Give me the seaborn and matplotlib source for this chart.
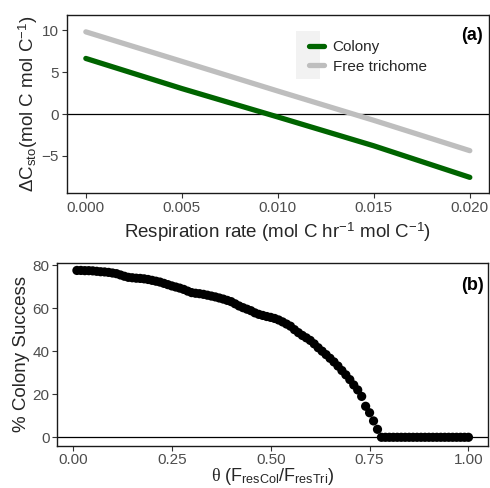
import matplotlib
matplotlib.use("Agg")
import matplotlib.pyplot as plt
import seaborn as sns
import pandas as pd
from matplotlib.patches import Rectangle

# panel (a): storage change vs respiration rate
resp_rate = [0.0, 0.005, 0.010, 0.015, 0.020]
colony_dc = [6.65, 3.05, -0.35, -3.8, -7.57]
trichome_dc = [9.83, 6.3, 2.75, -0.75, -4.38]

# panel (b): colony success vs theta
theta = [round(0.01 * i, 2) for i in range(1, 101)]
success = [77.5, 77.5, 77.4, 77.4, 77.3, 77.1, 76.9, 76.8, 76.6, 76.3,
           76.0, 75.4, 74.8, 74.3, 74.1, 73.9, 73.8, 73.6, 73.3, 72.9,
           72.5, 72.1, 71.5, 70.9, 70.3, 69.8, 69.3, 68.7, 67.9, 67.2,
           66.9, 66.7, 66.4, 66.0, 65.6, 65.2, 64.7, 64.2, 63.6, 63.0,
           62.0, 61.0, 60.2, 59.5, 58.8, 57.8, 57.1, 56.6, 56.1, 55.7,
           55.2, 54.5, 53.6, 52.6, 51.6, 50.0, 48.6, 47.3, 46.2, 45.0,
           43.4, 41.6, 40.0, 38.4, 36.7, 35.0, 33.1, 31.0, 29.0, 26.8,
           24.3, 22.0, 19.0, 14.4, 11.4, 7.6, 3.7] + [0.0] * 23

sns.set_theme(style="white")
plt.rcParams['font.family'] = ['Liberation Sans', 'DejaVu Sans']
plt.rcParams['mathtext.fontset'] = 'custom'
plt.rcParams['mathtext.rm'] = 'Liberation Sans'
plt.rcParams['mathtext.it'] = 'Liberation Serif'
plt.rcParams['mathtext.bf'] = 'Liberation Sans:bold'

tick_kw = dict(labelsize=11, labelcolor='#4D4D4D', color='#333333',
               length=3.5, width=0.8, pad=2, bottom=True, left=True)

fig = plt.figure(figsize=(4.9, 4.88), dpi=100)

# ---- panel (a)
ax1 = fig.add_axes([0.136, 0.604, 0.862, 0.365])
df_a = pd.DataFrame({
    'rate': resp_rate * 2,
    'dc': colony_dc + trichome_dc,
    'type': ['Colony'] * len(resp_rate) + ['Free trichome'] * len(resp_rate),
})
sns.lineplot(data=df_a, x='rate', y='dc', hue='type',
             palette={'Colony': '#006400', 'Free trichome': '#BEBEBE'},
             linewidth=3.8, ax=ax1, legend=False)
ax1.axhline(0, color='black', linewidth=0.9, zorder=0)
ax1.set_xlim(-0.001, 0.021)
ax1.set_ylim(-9.47, 11.83)
ax1.set_xticks([0.0, 0.005, 0.010, 0.015, 0.020])
ax1.set_xticklabels(['0.000', '0.005', '0.010', '0.015', '0.020'])
ax1.set_yticks([-5, 0, 5, 10])
ax1.set_yticklabels(['\u22125', '0', '5', '10'])
ax1.tick_params(**tick_kw)
ax1.set_xlabel(r'Respiration rate (mol C hr$^{-1}$ mol C$^{-1}$)', fontsize=13.5, labelpad=4)
ax1.set_ylabel(r'$\Delta$C$_{\rm sto}$(mol C mol C$^{-1}$)', fontsize=13.5, labelpad=1)

handles = [plt.Line2D([], [], color='#006400', linewidth=3.8),
           plt.Line2D([], [], color='#BEBEBE', linewidth=3.8)]
ax1.add_patch(Rectangle((0.543, 0.64), 0.057, 0.27, transform=ax1.transAxes,
                        facecolor='#F2F2F2', edgecolor='none', zorder=2))
ax1.legend(handles, ['Colony', 'Free trichome'], loc='upper left',
           bbox_to_anchor=(0.541, 0.935), frameon=False, fontsize=11,
           handlelength=1.0, handletextpad=0.55, labelspacing=0.35)
ax1.text(0.985, 0.888, '(a)', transform=ax1.transAxes, ha='right', va='center',
         fontsize=13, fontweight='bold', color='black')

# ---- panel (b)
ax2 = fig.add_axes([0.117, 0.0867, 0.879, 0.375])
df_b = pd.DataFrame({'theta': theta, 'success': success})
ax2.axhline(0, color='black', linewidth=0.9, zorder=0)
sns.scatterplot(data=df_b, x='theta', y='success', color='black', s=44,
                edgecolor='none', ax=ax2)
ax2.set_xlim(-0.0395, 1.0495)
ax2.set_ylim(-3.9, 81.1)
ax2.set_xticks([0.0, 0.25, 0.5, 0.75, 1.0])
ax2.set_xticklabels(['0.00', '0.25', '0.50', '0.75', '1.00'])
ax2.set_yticks([0, 20, 40, 60, 80])
ax2.tick_params(**tick_kw)
ax2.set_xlabel(r'$\theta$ (F$_{\rm resCol}$/F$_{\rm resTri}$)', fontsize=13, labelpad=-1)
ax2.set_ylabel('% Colony Success', fontsize=13.5, labelpad=2)
ax2.text(0.991, 0.878, '(b)', transform=ax2.transAxes, ha='right', va='center',
         fontsize=13, fontweight='bold', color='black')

for ax in (ax1, ax2):
    for sp in ax.spines.values():
        sp.set_color('#1A1A1A')
        sp.set_linewidth(1.0)

fig.savefig('out.png', dpi=100)
